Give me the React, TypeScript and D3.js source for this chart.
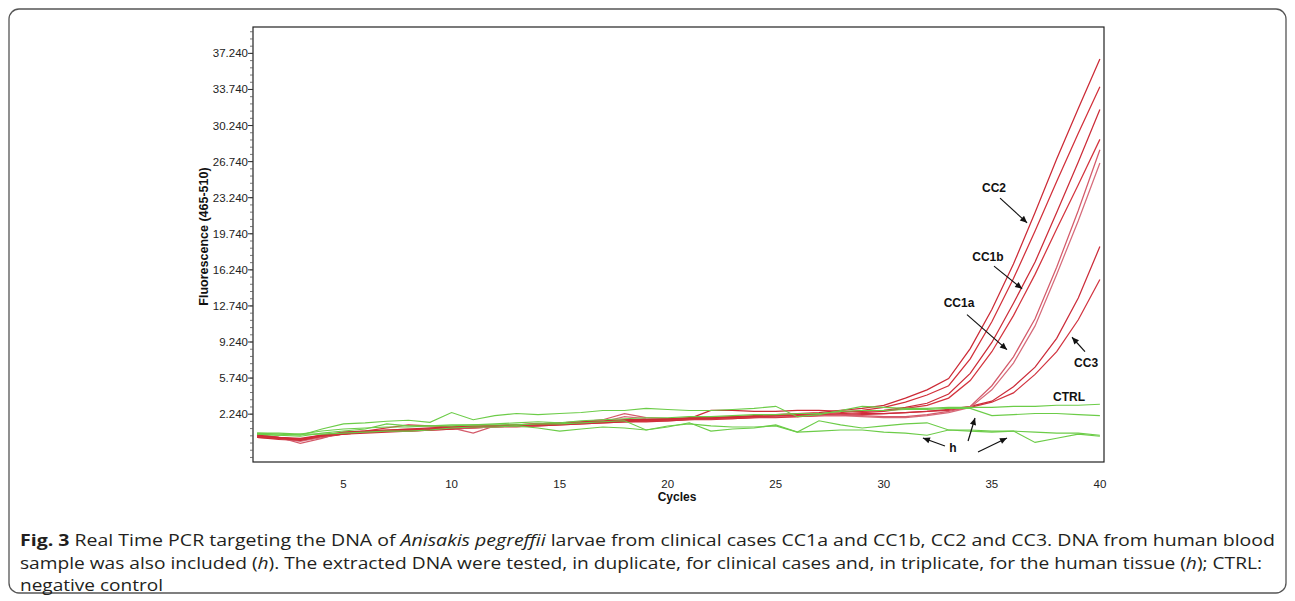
import React, { useEffect } from 'react';
import * as d3 from 'd3';

// cycles 1..40
const cycles = d3.range(1, 41);

// red curves (clinical cases, duplicates)
const cc2a = [0.2, 0.0, -0.1, 0.2, 0.5, 0.6, 0.7, 0.8, 0.9, 1.0, 1.1, 1.1, 1.2, 1.3, 1.4, 1.5, 1.6, 1.7, 1.7, 1.8, 1.9, 1.9, 2.0, 2.1, 2.2, 2.3, 2.4, 2.6, 2.8, 3.1, 3.8, 4.6, 5.7, 8.6, 12.4, 16.8, 21.8, 27.0, 31.9, 36.7];
const cc2b = [0.1, -0.1, -0.2, 0.1, 0.4, 0.5, 0.6, 0.7, 0.8, 0.9, 1.0, 1.1, 1.1, 1.2, 1.3, 1.4, 1.5, 1.6, 1.6, 1.7, 1.8, 1.8, 1.9, 2.0, 2.1, 2.2, 2.3, 2.4, 2.6, 2.9, 3.4, 4.1, 5.0, 7.6, 11.2, 15.4, 20.0, 24.8, 29.5, 34.0];
const cc1bA = [0.0, -0.1, -0.3, 0.1, 0.3, 0.5, 0.6, 0.7, 0.8, 0.9, 1.0, 1.1, 1.2, 1.2, 1.3, 1.4, 1.5, 1.6, 1.7, 1.7, 1.8, 2.6, 2.6, 2.5, 2.5, 2.6, 2.6, 2.5, 2.5, 2.6, 2.9, 3.3, 4.2, 6.2, 9.2, 13.0, 17.0, 21.8, 26.7, 31.8];
const cc1bB = [0.1, 0.0, -0.2, 0.2, 0.4, 0.6, 0.9, 1.2, 1.1, 1.0, 1.0, 1.1, 1.2, 1.3, 1.3, 1.4, 1.5, 1.6, 1.6, 1.7, 1.8, 1.9, 1.9, 2.0, 2.1, 2.1, 2.2, 2.3, 2.4, 2.5, 2.8, 3.1, 3.8, 5.5, 8.3, 11.8, 15.8, 20.2, 24.5, 28.9];
const cc1aA = [0.3, 0.0, -0.6, -0.1, 0.5, 0.6, 0.7, 0.8, 0.8, 0.9, 0.4, 1.1, 1.2, 1.3, 1.4, 1.5, 1.7, 2.3, 1.9, 1.8, 1.8, 1.9, 2.0, 2.0, 2.1, 2.1, 2.2, 2.2, 2.1, 2.0, 2.0, 2.2, 2.5, 3.0, 5.0, 7.8, 11.5, 16.5, 22.0, 27.9];
const cc1aB = [0.2, -0.1, -0.4, 0.0, 0.4, 0.5, 0.6, 0.7, 0.8, 0.9, 0.9, 1.0, 1.1, 1.2, 1.3, 1.4, 1.5, 2.0, 1.8, 1.7, 1.8, 1.8, 1.9, 2.0, 2.0, 2.1, 2.1, 2.1, 2.0, 1.9, 1.9, 2.1, 2.4, 2.9, 4.6, 7.2, 10.8, 15.8, 21.0, 26.6];
const cc3a = [0.0, -0.2, -0.3, 0.0, 0.3, 0.4, 0.5, 0.6, 0.7, 0.8, 0.9, 1.0, 1.1, 1.1, 1.2, 1.3, 1.4, 1.5, 1.6, 1.6, 1.7, 1.8, 1.8, 1.9, 2.0, 2.0, 2.1, 2.2, 2.3, 2.3, 2.4, 2.5, 2.7, 3.0, 3.5, 4.9, 6.8, 9.6, 13.5, 18.5];
const cc3b = [0.1, -0.1, -0.2, 0.1, 0.3, 0.5, 0.6, 0.6, 0.7, 0.8, 0.9, 1.0, 1.0, 1.1, 1.2, 1.3, 1.4, 1.5, 1.5, 1.6, 1.7, 1.7, 1.8, 1.9, 1.9, 2.0, 2.1, 2.1, 2.2, 2.3, 2.4, 2.5, 2.6, 2.9, 3.4, 4.3, 6.1, 8.3, 11.4, 15.3];

// green curves (negative control and human tissue, triplicate)
const ctrl = [0.4, 0.3, 0.2, 0.8, 1.3, 1.4, 1.55, 1.65, 1.45, 2.4, 1.7, 2.1, 2.3, 2.2, 2.3, 2.4, 2.6, 2.6, 2.8, 2.7, 2.6, 2.6, 2.7, 2.8, 3.0, 2.0, 2.2, 2.6, 3.0, 2.9, 2.8, 2.8, 2.9, 2.9, 2.9, 3.0, 3.0, 3.1, 3.1, 3.2];
const h1 = [0.3, 0.2, 0.1, 0.4, 0.6, 0.8, 1.3, 1.1, 1.1, 1.2, 1.2, 1.3, 1.4, 1.5, 1.4, 1.6, 1.7, 1.8, 1.9, 1.9, 2.0, 2.0, 2.1, 2.2, 2.2, 2.3, 2.3, 2.5, 2.6, 2.6, 2.7, 2.7, 2.8, 2.8, 2.1, 2.2, 2.3, 2.3, 2.2, 2.1];
const h2 = [0.3, 0.2, 0.3, 0.3, 0.4, 0.5, 0.6, 0.6, 0.7, 0.9, 1.0, 1.0, 1.1, 0.9, 0.6, 0.8, 1.0, 0.9, 0.7, 1.0, 1.4, 0.6, 0.8, 0.9, 1.2, 0.5, 1.6, 1.2, 0.9, 1.1, 1.3, 1.4, 0.7, 0.7, 0.6, 0.6, -0.5, -0.1, 0.3, 0.1];
const h3 = [0.4, 0.4, 0.3, 0.6, 0.8, 0.9, 1.0, 1.0, 1.1, 1.1, 1.2, 1.2, 1.2, 1.3, 1.3, 1.4, 1.5, 1.6, 0.7, 1.1, 1.3, 1.1, 1.0, 1.0, 1.1, 0.5, 0.6, 0.7, 0.7, 0.5, 0.4, 0.2, 0.7, 0.6, 0.5, 0.6, 0.5, 0.4, 0.4, 0.2];

const redSeries = [
  { values: cc3b, color: '#d23440' },
  { values: cc3a, color: '#cc2c3a' },
  { values: cc1aB, color: '#d66b7a' },
  { values: cc1aA, color: '#d45a6a' },
  { values: cc1bB, color: '#d4343e' },
  { values: cc1bA, color: '#cc2c38' },
  { values: cc2b, color: '#d2303a' },
  { values: cc2a, color: '#cc2a36' },
];
const greenSeries = [h3, h2, h1, ctrl];

const yTicks = [2.24, 5.74, 9.24, 12.74, 16.24, 19.74, 23.24, 26.74, 30.24, 33.74, 37.24];
const yMinor = d3.range(-1.96, 39.5, 0.7);
const xTicks = [5, 10, 15, 20, 25, 30, 35, 40];

// annotation labels, in (cycle, fluorescence) units
const labels = [
  { text: 'CC2', c: 35.1, v: 24.2 },
  { text: 'CC1b', c: 34.82, v: 17.5 },
  { text: 'CC1a', c: 33.48, v: 13.0 },
  { text: 'CC3', c: 39.36, v: 7.2 },
  { text: 'CTRL', c: 38.57, v: 3.9 },
  { text: 'h', c: 33.2, v: -1.0 },
];
const arrows = [
  { c0: 35.38, v0: 23.2, c1: 36.63, v1: 20.8 },
  { c0: 35.1, v0: 16.6, c1: 36.4, v1: 14.4 },
  { c0: 33.85, v0: 11.9, c1: 35.7, v1: 8.5 },
  { c0: 39.31, v0: 8.3, c1: 38.71, v1: 9.7 },
  { c0: 32.83, v0: -0.85, c1: 31.81, v1: -0.07 },
  { c0: 33.9, v0: -0.36, c1: 34.22, v1: 1.87 },
  { c0: 34.36, v0: -1.43, c1: 35.7, v1: -0.07 },
];

const W = 1295;
const H = 601;
const left = 253, right = 1104, top = 27, bottom = 462;
const font = '"Liberation Sans", Arial, sans-serif';

export default function App() {
  useEffect(() => {
    document.body.style.margin = '0';
  }, []);

  const x = d3.scaleLinear().domain([0.81, 40.19]).range([left, right]);
  const y = d3.scaleLinear().domain([-2.4, 39.8]).range([bottom, top]);
  const line = d3.line<number>()
    .x((d, i) => x(cycles[i]))
    .y(d => y(d));
  const fmt = d3.format('.3f');

  return (
    <svg width={W} height={H} style={{ display: 'block' }}>
      <defs>
        <marker id="ah" viewBox="0 0 10 10" refX="10" refY="5" markerWidth="9" markerHeight="7"
          markerUnits="userSpaceOnUse" orient="auto">
          <path d="M0,0.5 L10,5 L0,9.5 z" fill="#111" />
        </marker>
      </defs>
      <rect x={0} y={0} width={W} height={H} fill="#fff" />
      <rect x={9} y={9} width={1277} height={584} rx={10} fill="none" stroke="#555" strokeWidth={1.3} />

      {/* plot frame */}
      <rect x={left} y={top} width={right - left} height={bottom - top} fill="#fff" stroke="#222" strokeWidth={1.2} />

      {/* y axis */}
      {yMinor.map((t, i) => (
        <line key={'m' + i} x1={left - 3} x2={left} y1={y(t)} y2={y(t)} stroke="#555" strokeWidth={0.8} />
      ))}
      {yTicks.map(t => (
        <g key={t}>
          <line x1={left - 5} x2={left} y1={y(t)} y2={y(t)} stroke="#333" strokeWidth={1} />
          <text x={left - 5} y={y(t)} dy="0.35em" textAnchor="end" fontFamily={font} fontSize={11.5} fill="#222">
            {fmt(t)}
          </text>
        </g>
      ))}
      <text transform={`translate(204,${(top + bottom) / 2 - 8}) rotate(-90)`} textAnchor="middle"
        fontFamily={font} fontSize={12.5} fontWeight="bold" fill="#111" dy="0.35em">
        Fluorescence (465-510)
      </text>

      {/* x axis */}
      {xTicks.map(t => (
        <text key={t} x={x(t)} y={488} textAnchor="middle" fontFamily={font} fontSize={11.5} fill="#222">{t}</text>
      ))}
      <text x={677} y={501} textAnchor="middle" fontFamily={font} fontSize={12} fontWeight="bold" fill="#111">Cycles</text>

      {/* curves */}
      {redSeries.map((s, i) => (
        <path key={'r' + i} d={line(s.values) || ''} fill="none" stroke={s.color} strokeWidth={1.25} />
      ))}
      {greenSeries.map((s, i) => (
        <path key={'g' + i} d={line(s) || ''} fill="none" stroke="#6ccc48" strokeWidth={1.1} />
      ))}

      {/* annotations */}
      {arrows.map((a, i) => (
        <line key={'a' + i} x1={x(a.c0)} y1={y(a.v0)} x2={x(a.c1)} y2={y(a.v1)} stroke="#111" strokeWidth={1.2}
          markerEnd="url(#ah)" />
      ))}
      {labels.map(l => (
        <text key={l.text} x={x(l.c)} y={y(l.v)} dy="0.35em" textAnchor="middle" fontFamily={font}
          fontSize={12} fontWeight="bold" fill="#111">{l.text}</text>
      ))}

      {/* caption */}
      <g fontFamily='"Open Sans", sans-serif' fontSize={16} fill="#231f20">
        <text x={20} y={546} textLength={1255} lengthAdjust="spacingAndGlyphs">
          <tspan fontWeight="bold">Fig. 3</tspan> Real Time PCR targeting the DNA of <tspan fontStyle="italic">Anisakis pegreffii</tspan> larvae from clinical cases CC1a and CC1b, CC2 and CC3. DNA from human blood
        </text>
        <text x={20} y={568.5} textLength={1242} lengthAdjust="spacingAndGlyphs">
          sample was also included (<tspan fontStyle="italic">h</tspan>). The extracted DNA were tested, in duplicate, for clinical cases and, in triplicate, for the human tissue (<tspan fontStyle="italic">h</tspan>); CTRL:
        </text>
        <text x={20} y={591} textLength={143} lengthAdjust="spacingAndGlyphs">negative control</text>
      </g>
    </svg>
  );
}
